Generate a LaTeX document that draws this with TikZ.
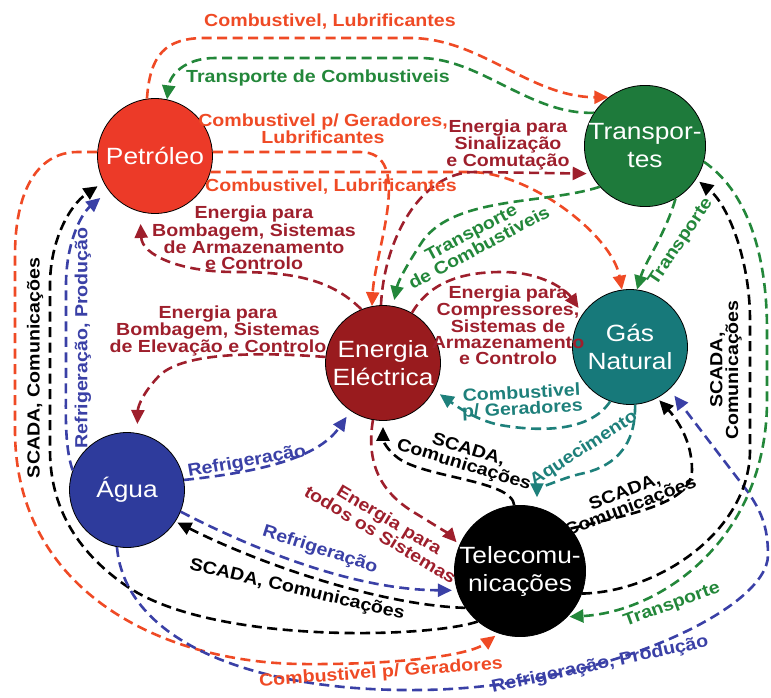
\documentclass[tikz,border=0pt]{standalone}
\usepackage{fontspec}
\setmainfont{Liberation Sans}[FakeStretch=1.12]
\usetikzlibrary{arrows.meta}
\definecolor{cor}{HTML}{EF4A25}
\definecolor{cgr}{HTML}{23873A}
\definecolor{cdr}{HTML}{9E1F2C}
\definecolor{cte}{HTML}{1E807B}
\definecolor{cbl}{HTML}{3A40A6}
\definecolor{fpet}{HTML}{EC3A28}
\definecolor{ftra}{HTML}{1E7A3B}
\definecolor{fgas}{HTML}{17797A}
\definecolor{fele}{HTML}{991B1E}
\definecolor{fagu}{HTML}{2E3B9C}

\begin{document}
\begin{tikzpicture}[x=1pt, y=-1pt,
    hub/.style={circle, draw=black, line width=0.8pt, minimum size=115pt, inner sep=0pt,
        text=white, align=center, font=\fontsize{23.5}{28}\selectfont},
    flow/.style={line width=2.6pt, dash pattern=on 10pt off 5.5pt, -{Triangle[length=14pt,width=13pt]}},
    lbl/.style={font=\fontsize{17.5}{15.8}\selectfont\bfseries, align=center, inner sep=0pt}]
    \useasboundingbox (0,0) rectangle (771,698);
    \node[hub, fill=fpet] (pet) at (155,156) {Petróleo};
    \node[hub, fill=ftra] (tra) at (645,146) {Transpor-\\tes};
    \node[hub, fill=fgas] (gas) at (630,347) {Gás\\Natural};
    \node[hub, fill=fele] (ele) at (383,363) {Energia\\Eléctrica};
    \node[hub, fill=fagu] (agu) at (127,490) {Água};
    \node[hub, fill=black] (tel) at (520,571) {Telecomu-\\nicações};

    \draw[flow, draw=cor] (pet.98) .. controls (150,55) and (165,38) .. (205,38) -- (410,38) .. controls (480,38) and (530,97) .. (tra.127);
    \draw[flow, draw=cgr] (tra.147) .. controls (530,115) and (480,58) .. (420,58) -- (215,58) .. controls (185,58) and (170,75) .. (pet.78);
    \draw[flow, draw=cor] (pet.4) -- (360,152) .. controls (415,152) and (375,250) .. (ele.101);
    \draw[flow, draw=cor] (pet.-16) -- (470,172) .. controls (530,172) and (612,235) .. (gas.98);
    \draw[flow, draw=cdr, shorten >=4pt] (ele.92) .. controls (384,240) and (420,172) .. (475,172) -- (tra.207);
    \draw[flow, draw=cdr, shorten >=12pt] (ele.112) .. controls (330,278) and (290,272) .. (235,272) .. controls (180,272) and (142,255) .. (pet.255);
    \draw[flow, draw=cdr, shorten >=9pt] (ele.174) .. controls (260,352) and (185,352) .. (160,375) .. controls (145,390) and (138,405) .. (agu.80);
    \draw[flow, draw=cbl, shorten >=7pt] (agu.10) .. controls (260,472) and (318,458) .. (ele.236);
    \draw[flow, draw=cbl, shorten >=11pt] (agu.160) .. controls (64,445) and (66,410) .. (66,370) -- (66,285) .. controls (66,245) and (80,215) .. (pet.217);
    \draw[flow, draw=black, shorten >=7pt] (tel.230) .. controls (430,638) and (210,645) .. (125,585) .. controls (75,550) and (50,505) .. (50,450) -- (50,285) .. controls (50,240) and (70,205) .. (pet.207);
    \draw[flow, draw=cor, shorten >=4pt] (pet.176) -- (78,152) .. controls (35,152) and (15,195) .. (15,255) -- (15,430) .. controls (15,590) and (160,662) .. (300,664) .. controls (400,665) and (470,655) .. (tel.251);
    \draw[flow, draw=black, shorten >=2pt] (tel.214) .. controls (380,605) and (262,565) .. (agu.-33);
    \draw[flow, draw=cbl, shorten >=5pt] (agu.-22) .. controls (245,545) and (350,590) .. (tel.197);
    \draw[flow, draw=cbl, shorten >=8pt] (agu.260) .. controls (125,640) and (250,692) .. (420,690) .. controls (600,688) and (768,610) .. (768,555) .. controls (768,525) and (760,510) .. (748,492) -- (gas.-47);
    \draw[flow, draw=cgr, shorten >=2pt] (tra.-15) .. controls (745,190) and (767,250) .. (767,330) -- (767,400) .. controls (767,540) and (660,612) .. (tel.-44);
    \draw[flow, draw=cgr] (tra.-60) .. controls (665,235) and (645,262) .. (gas.83);
    \draw[flow, draw=cgr, shorten >=6pt] (tra.222) .. controls (545,205) and (450,195) .. (420,245) .. controls (405,268) and (398,282) .. (ele.80);
    \draw[flow, draw=cdr, shorten >=7pt] (ele.60) .. controls (430,282) and (462,272) .. (502,272) .. controls (542,272) and (566,290) .. (gas.145);
    \draw[flow, draw=cte, shorten >=7pt] (gas.250) .. controls (590,432) and (540,432) .. (500,425) .. controls (475,420) and (455,405) .. (ele.-28);
    \draw[flow, draw=cte, shorten >=10pt] (gas.275) .. controls (636,450) and (610,468) .. (580,474) .. controls (555,480) and (537,492) .. (tel.75);
    \draw[flow, draw=black, shorten >=6pt] (tel.95) .. controls (512,480) and (425,478) .. (398,458) .. controls (386,449) and (383,440) .. (ele.-90);
    \draw[flow, draw=black, shorten >=3pt] (tel.40) .. controls (625,515) and (692,505) .. (692,470) .. controls (692,440) and (676,418) .. (gas.-62);
    \draw[flow, draw=black, shorten >=4pt] (tel.-20) .. controls (660,592) and (750,530) .. (750,450) -- (750,320) .. controls (750,260) and (728,205) .. (tra.-33);
    \draw[flow, draw=cdr, shorten >=4pt] (ele.-100) .. controls (365,468) and (385,495) .. (415,513) .. controls (435,525) and (450,535) .. (tel.157);

    \node[lbl, text=cor] (l1) at (330,22) {Combustivel, Lubrificantes};
    \node[lbl, text=cgr] (l2) at (318,78) {Transporte de Combustiveis};
    \node[lbl, text=cor] (l3) at (323,129) {Combustivel p/ Geradores,\\Lubrificantes};
    \node[lbl, text=cor] (l4) at (331,187) {Combustivel, Lubrificantes};
    \node[lbl, text=cdr] (l5) at (508,145) {Energia para\\Sinalização\\e Comutação};
    \node[lbl, text=cdr] (l6) at (254,238) {Energia para\\Bombagem, Sistemas\\de Armazenamento\\e Controlo};
    \node[lbl, text=cdr] (l7) at (218,331) {Energia para\\Bombagem, Sistemas\\de Elevação e Controlo};
    \node[lbl, text=cgr, rotate=28] (l8) at (475,240) {Transporte\\de Combustiveis};
    \node[lbl, text=cgr, rotate=56] (l9) at (681,242) {Transporte};
    \node[lbl, text=cdr] (l10) at (508,325) {Energia para\\Compressores,\\Sistemas de\\Armazenamento\\e Controlo};
    \node[lbl, text=cte, rotate=3] (l11) at (522,402) {Combustivel\\p/ Geradores};
    \node[lbl, text=black, rotate=-17] (l12) at (466,458) {SCADA,\\Comunicações};
    \node[lbl, text=cte, rotate=33] (l13) at (584,449) {Aquecimento};
    \node[lbl, text=black, rotate=21] (l14) at (628,500) {SCADA,\\Comunicações};
    \node[lbl, text=black, rotate=90] (l15) at (726,370) {SCADA,\\Comunicações};
    \node[lbl, text=cbl, rotate=90] (l16) at (83,338) {Refrigeração, Produção};
    \node[lbl, text=black, rotate=90] (l17) at (35,368) {SCADA, Comunicações};
    \node[lbl, text=cbl, rotate=10] (l18) at (247,462) {Refrigeração};
    \node[lbl, text=cdr, rotate=-31] (l19) at (385,527) {Energia para\\todos os Sistemas};
    \node[lbl, text=cbl, rotate=-18] (l20) at (320,550) {Refrigeração};
    \node[lbl, text=black, rotate=-13] (l21) at (297,590) {SCADA, Comunicações};
    \node[lbl, text=cor, rotate=4] (l22) at (381,673) {Combustivel p/ Geradores};
    \node[lbl, text=cbl, rotate=12] (l23) at (600,665) {Refrigeração, Produção};
    \node[lbl, text=cgr, rotate=20] (l24) at (672,605) {Transporte};
\end{tikzpicture}
\end{document}
